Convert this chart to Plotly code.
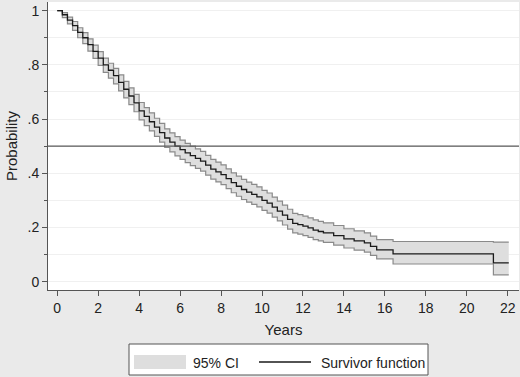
import plotly.graph_objects as go

# Kaplan-Meier estimate
times = [0, 0.25, 0.5, 0.75, 1.0, 1.25, 1.5, 1.75, 2.0, 2.25, 2.5, 2.75, 3.0, 3.25, 3.5, 3.75,
         4.0, 4.25, 4.5, 4.75, 5.0, 5.25, 5.5, 5.75, 6.0, 6.25, 6.5, 6.75, 7.0, 7.25, 7.5, 7.75,
         8.0, 8.25, 8.5, 8.75, 9.0, 9.25, 9.5, 9.75, 10.0, 10.25, 10.5, 10.75, 11.0, 11.25, 11.5,
         11.75, 12.0, 12.25, 12.5, 12.75, 13.0, 13.5, 14.0, 14.5, 15.0, 15.3, 15.6, 16.4, 21.3]
surv = [1.0, 0.985, 0.965, 0.945, 0.92, 0.90, 0.875, 0.85, 0.825, 0.80, 0.78, 0.76, 0.735, 0.71,
        0.685, 0.66, 0.63, 0.61, 0.59, 0.57, 0.55, 0.53, 0.515, 0.50, 0.487, 0.475, 0.465, 0.455,
        0.445, 0.43, 0.415, 0.405, 0.395, 0.38, 0.365, 0.352, 0.34, 0.33, 0.322, 0.313, 0.30, 0.29,
        0.275, 0.26, 0.245, 0.23, 0.215, 0.21, 0.205, 0.198, 0.19, 0.185, 0.18, 0.17, 0.158, 0.15,
        0.143, 0.13, 0.117, 0.102, 0.069]
lower = [1.0, 0.974, 0.951, 0.927, 0.900, 0.878, 0.851, 0.824, 0.798, 0.772, 0.751, 0.730, 0.704,
         0.678, 0.653, 0.627, 0.597, 0.576, 0.556, 0.536, 0.515, 0.495, 0.479, 0.464, 0.451, 0.439,
         0.428, 0.418, 0.408, 0.393, 0.378, 0.368, 0.358, 0.343, 0.328, 0.315, 0.303, 0.293, 0.285,
         0.276, 0.263, 0.253, 0.238, 0.224, 0.209, 0.194, 0.180, 0.175, 0.170, 0.163, 0.155, 0.150,
         0.145, 0.135, 0.124, 0.116, 0.109, 0.097, 0.084, 0.065, 0.025]
upper = [1.0, 0.993, 0.976, 0.960, 0.937, 0.919, 0.896, 0.873, 0.849, 0.825, 0.806, 0.787, 0.763,
         0.739, 0.715, 0.691, 0.661, 0.642, 0.623, 0.603, 0.584, 0.564, 0.549, 0.535, 0.522, 0.510,
         0.500, 0.490, 0.481, 0.466, 0.451, 0.441, 0.431, 0.416, 0.401, 0.389, 0.377, 0.367, 0.359,
         0.350, 0.337, 0.327, 0.312, 0.297, 0.282, 0.267, 0.252, 0.247, 0.242, 0.235, 0.228, 0.222,
         0.217, 0.207, 0.195, 0.187, 0.180, 0.168, 0.155, 0.148, 0.146]
end_time = 22.05

x_ticks = [0, 2, 4, 6, 8, 10, 12, 14, 16, 18, 20, 22]
y_ticks = [0, 0.2, 0.4, 0.6, 0.8, 1.0]
y_tick_labels = ["0", ".2", ".4", ".6", ".8", "1"]
ref_line = 0.5
legend_labels = ["95% CI", "Survivor function"]

tx = times + [end_time]
s = surv + [surv[-1]]
lo = lower + [lower[-1]]
up = upper + [upper[-1]]

FILL = "#dedede"
EDGE = "#8a8a8a"
FONT = "Liberation Sans, Arial, sans-serif"

W, H = 520, 377
ML, MR, MT, MB = 48, 1, 2, 87
PW, PH = W - ML - MR, H - MT - MB


def px(xpix):
    return (xpix - ML) / PW


def py(ypix):
    return (H - MB - ypix) / PH


fig = go.Figure()
# CI band (fill only)
fig.add_trace(go.Scatter(x=tx, y=lo, mode="lines", line=dict(width=0, shape="hv"),
                         showlegend=False, hoverinfo="skip"))
fig.add_trace(go.Scatter(x=tx, y=up, mode="lines", line=dict(width=0, shape="hv"),
                         fill="tonexty", fillcolor=FILL, showlegend=False))
# CI outlines
fig.add_trace(go.Scatter(x=tx, y=lo, mode="lines", line=dict(width=1.2, color=EDGE, shape="hv"),
                         showlegend=False))
fig.add_trace(go.Scatter(x=tx, y=up, mode="lines", line=dict(width=1.2, color=EDGE, shape="hv"),
                         showlegend=False))
# Survivor function
fig.add_trace(go.Scatter(x=tx, y=s, mode="lines", line=dict(width=1.3, color="#1a1a1a", shape="hv"),
                         showlegend=False))

fig.add_shape(type="line", xref="paper", x0=0, x1=1, yref="y", y0=ref_line, y1=ref_line,
              line=dict(color="#5a5a5a", width=1.3), layer="above")

# Legend box (drawn)
fig.add_shape(type="rect", xref="paper", yref="paper", x0=px(129), x1=px(428), y0=py(375), y1=py(344),
              fillcolor="white", line=dict(color="#555555", width=1))
fig.add_shape(type="rect", xref="paper", yref="paper", x0=px(134), x1=px(186), y0=py(369), y1=py(355),
              fillcolor=FILL, line=dict(width=0))
fig.add_shape(type="line", xref="paper", yref="paper", x0=px(259), x1=px(311), y0=py(362), y1=py(362),
              line=dict(color="#1a1a1a", width=1.3))
fig.add_annotation(xref="paper", yref="paper", x=px(191), y=py(362.5), text=legend_labels[0],
                   showarrow=False, xanchor="left", yanchor="middle", font=dict(size=14))
fig.add_annotation(xref="paper", yref="paper", x=px(319), y=py(362.5), text=legend_labels[1],
                   showarrow=False, xanchor="left", yanchor="middle", font=dict(size=14))

fig.update_layout(
    width=W, height=H,
    margin=dict(l=ML, r=MR, t=MT, b=MB),
    paper_bgcolor="#eaeaea", plot_bgcolor="white",
    font=dict(family=FONT, size=14, color="#222222"),
    showlegend=False,
    xaxis=dict(range=[-0.45, 22.55], tickvals=x_ticks, ticks="outside", ticklen=5,
               tickcolor="#555555", showline=True, linecolor="#555555", linewidth=1,
               showgrid=False, zeroline=False, automargin=False,
               title=dict(text="Years", font=dict(size=15), standoff=9)),
    yaxis=dict(range=[-0.031, 1.032], tickvals=y_ticks, ticktext=y_tick_labels,
               ticks="outside", ticklen=5, tickcolor="#555555", showline=True,
               linecolor="#555555", linewidth=1, showgrid=True, gridcolor="#f0f0f0",
               zeroline=False, automargin=False,
               minor=dict(dtick=0.1, tick0=0, ticks="outside", ticklen=3, tickcolor="#555555",
                          showgrid=True, gridcolor="#f0f0f0"),
               title=dict(text="Probability", font=dict(size=15), standoff=6)),
)

fig.write_html("out.html", config={"displayModeBar": False},
               post_script="document.body.style.margin='0';document.body.style.background='#eaeaea';")
